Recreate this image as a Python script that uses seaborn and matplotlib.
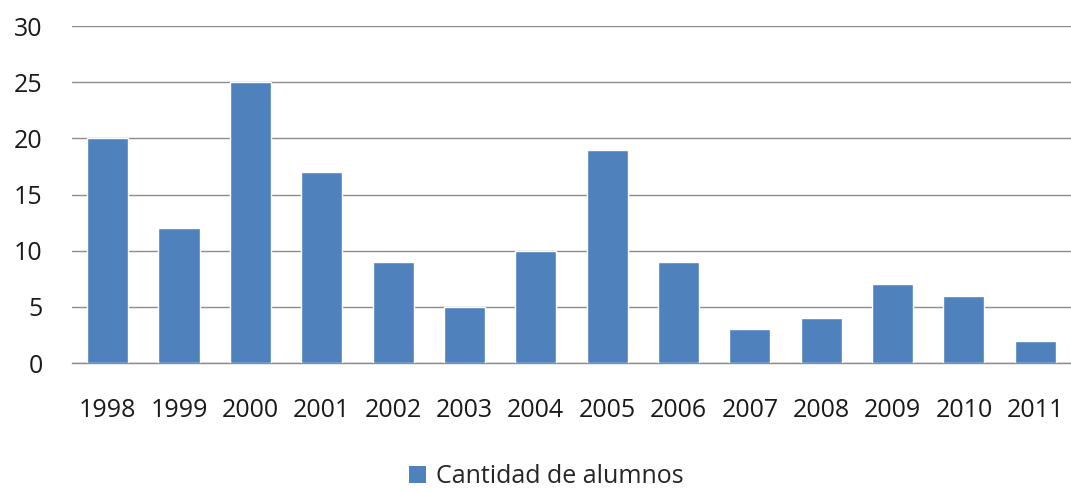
import matplotlib
matplotlib.use("Agg")
import matplotlib.pyplot as plt
from matplotlib.patches import Patch
import pandas as pd
import seaborn as sns

years = ['1998', '1999', '2000', '2001', '2002', '2003', '2004',
         '2005', '2006', '2007', '2008', '2009', '2010', '2011']
alumnos = [20, 12, 25, 17, 9, 5, 10, 19, 9, 3, 4, 7, 6, 2]
serie = 'Cantidad de alumnos'
yticks = [0, 5, 10, 15, 20, 25, 30]

sns.set_style("white")
plt.rcParams['font.family'] = ['Open Sans', 'DejaVu Sans']

df = pd.DataFrame({'anio': years, 'valor': alumnos})

fig = plt.figure(figsize=(10.71, 4.92), dpi=100)
ax = fig.add_axes([0.0672, 0.262, 0.9328, 0.685])

sns.barplot(data=df, x='anio', y='valor', color='#4F81BD', width=0.575,
            saturation=1, ax=ax, zorder=3)

ax.set_ylim(0, 30)
ax.set_xlim(-0.5, len(years) - 0.5)
ax.set_yticks(yticks)
ax.yaxis.grid(True, color='#8c8c8c', linewidth=1, zorder=0)
ax.set_axisbelow(True)
for s in ['left', 'right', 'top']:
    ax.spines[s].set_visible(False)
ax.spines['bottom'].set_color('#8c8c8c')
ax.spines['bottom'].set_linewidth(1)
ax.tick_params(axis='x', length=0, pad=25, labelsize=18, labelcolor='#1a1a1a')
ax.tick_params(axis='y', length=0, pad=21, labelsize=18, labelcolor='#1a1a1a')
ax.set_xlabel('')
ax.set_ylabel('')

handle = Patch(facecolor='#4F81BD', edgecolor='none')
fig.legend([handle], [serie], loc='lower center', bbox_to_anchor=(0.51, -0.04),
           frameon=False, fontsize=18, handlelength=0.65, handleheight=0.65,
           handletextpad=0.4)

fig.savefig('out.png', dpi=100)
